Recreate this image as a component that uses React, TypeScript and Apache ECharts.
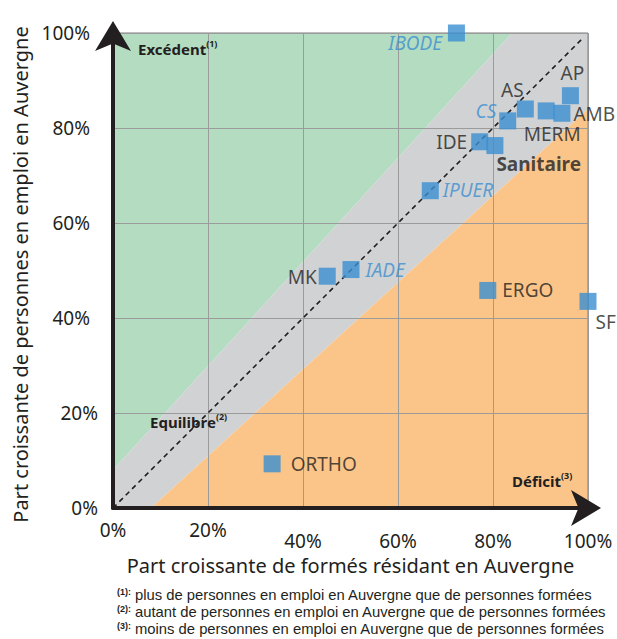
import React, { useEffect, useRef } from 'react';
import * as echarts from 'echarts';

// ---- data ----
const professions = ['IBODE', 'AP', 'AS', 'CS', 'MERM', 'AMB', 'IDE', 'Sanitaire', 'IPUER', 'MK', 'IADE', 'ERGO', 'SF', 'ORTHO'];
const trainedResidentShare = [72.3, 96.3, 86.8, 83.1, 91.2, 94.5, 77.2, 80.4, 66.8, 45.1, 50.1, 78.9, 100, 33.5];
const employedShare = [100, 86.8, 84.0, 81.5, 83.6, 83.1, 77.1, 76.3, 66.8, 48.8, 50.2, 45.8, 43.5, 9.3];
const excessBand = [[0, 8], [0, 100], [84, 100]];
const balanceBand = [[0, 0], [0, 8], [84, 100], [100, 100], [100, 84], [8, 0]];
const deficitBand = [[8, 0], [100, 84], [100, 0]];
const equilibriumLine = [[0, 0], [99, 99]];
const xAxisTitle = 'Part croissante de formés résidant en Auvergne';
const yAxisTitle = 'Part croissante de personnes en emploi en Auvergne';
const footnotes = [
  'plus de personnes en emploi en Auvergne que de personnes formées',
  'autant de personnes en emploi en Auvergne que de personnes formées',
  'moins de personnes en emploi en Auvergne que de personnes formées',
];

// ---- styles ----
const FONT = 'Noto Sans';
const NOTE_FONT = 'Liberation Sans';
const INK = '#231f20';
const BLUE = '#3b8fd0';
const bandColors = ['#b3dcc1', '#d1d2d4', '#fbc58a'];

const labelPlacement: Record<string, { pos: [number, number]; align: string; italic?: boolean; bold?: boolean }> = {
  IBODE: { pos: [-6, 18], align: 'right', italic: true },
  AP: { pos: [10.5, -14], align: 'center' },
  AS: { pos: [-4.5, -11], align: 'center' },
  CS: { pos: [-3, -1], align: 'right', italic: true },
  MERM: { pos: [14.5, 32], align: 'center' },
  AMB: { pos: [20, 9], align: 'left' },
  IDE: { pos: [-4, 9], align: 'right' },
  Sanitaire: { pos: [10, 27], align: 'left', bold: true },
  IPUER: { pos: [21, 8], align: 'left', italic: true },
  MK: { pos: [-2, 9], align: 'right' },
  IADE: { pos: [23, 9], align: 'left', italic: true },
  ERGO: { pos: [23, 8.5], align: 'left' },
  SF: { pos: [16, 29], align: 'left' },
  ORTHO: { pos: [27, 8.5], align: 'left' },
};

export default function App() {
  const ref = useRef<HTMLDivElement>(null);
  useEffect(() => {
    if (!ref.current) return;
    const chart = echarts.init(ref.current, undefined, { renderer: 'svg' });
    const bands = [excessBand, balanceBand, deficitBand];

    const scatterData = professions.map((name, i) => {
      const p = labelPlacement[name];
      return {
        name,
        value: [trainedResidentShare[i], employedShare[i]],
        label: {
          show: true,
          formatter: name,
          position: p.pos,
          align: p.align,
          verticalAlign: 'middle',
          fontSize: 19,
          fontFamily: FONT,
          color: p.italic ? BLUE : INK,
          fontStyle: p.italic ? 'italic' : 'normal',
          fontWeight: p.bold ? 'bold' : 'normal',
        },
      };
    });

    const corner = (x: number, y: number, main: string, sup: string) => ({
      type: 'text',
      x,
      y,
      z: 10,
      style: {
        text: `{m|${main}}{s|${sup}}`,
        align: 'left',
        verticalAlign: 'middle',
        rich: {
          m: { fontFamily: FONT, fontSize: 15, fontWeight: 'bold', fill: INK, color: INK, lineHeight: 20 },
          s: { fontFamily: FONT, fontSize: 9, fontWeight: 'bold', fill: INK, color: INK, lineHeight: 13, verticalAlign: 'top' },
        },
      },
    });

    const footnote = (i: number, y: number) => ({
      type: 'text',
      x: 117,
      y,
      style: {
        text: `{s|(${i + 1}):}{t|${footnotes[i]}}`,
        align: 'left',
        verticalAlign: 'middle',
        rich: {
          s: { fontFamily: NOTE_FONT, fontSize: 9, fontWeight: 'bold', fill: INK, color: INK, lineHeight: 9, verticalAlign: 'top', padding: [0, 4, 0, 0] },
          t: { fontFamily: NOTE_FONT, fontSize: 14.8, fill: INK, color: INK, lineHeight: 16 },
        },
      },
    });

    const option: any = {
      animation: false,
      backgroundColor: '#ffffff',
      textStyle: { fontFamily: FONT, color: INK },
      grid: { left: 113, top: 33, width: 475, height: 475, show: true, borderColor: '#7d7d7d', borderWidth: 1, backgroundColor: 'transparent' },
      xAxis: {
        type: 'value', min: 0, max: 100, interval: 20,
        name: xAxisTitle, nameLocation: 'middle', nameGap: 46,
        nameTextStyle: { fontSize: 20, color: INK, fontFamily: FONT },
        axisLine: { show: true, symbol: ['none', 'arrow'], symbolSize: [27, 30], symbolOffset: [0, 13], lineStyle: { color: INK, width: 4 } },
        axisTick: { show: false },
        splitLine: { show: true, lineStyle: { color: '#9b9b9b', width: 1 } },
        axisLabel: {
          margin: 11,
          formatter: (v: number) => (v <= 20 ? `{a|${v}%}` : `{b|${v}%}`),
          rich: {
            a: { fontSize: 19, lineHeight: 22, color: INK, fontFamily: FONT },
            b: { fontSize: 19, lineHeight: 44, color: INK, fontFamily: FONT },
          },
        },
      },
      yAxis: {
        type: 'value', min: 0, max: 100, interval: 20,
        name: yAxisTitle, nameLocation: 'middle', nameGap: 81,
        nameTextStyle: { fontSize: 20, color: INK, fontFamily: FONT, padding: [0, 8, 0, 0] },
        axisLine: { show: true, symbol: ['none', 'arrow'], symbolSize: [27, 30], symbolOffset: [0, 12], lineStyle: { color: INK, width: 4 } },
        axisTick: { show: false },
        splitLine: { show: true, lineStyle: { color: '#9b9b9b', width: 1 } },
        axisLabel: {
          margin: 15,
          formatter: (v: number) => (v <= 20 ? `{a|${v}%}` : `{b|${v}%}`),
          rich: {
            a: { fontSize: 19, color: INK, fontFamily: FONT },
            b: { fontSize: 19, color: INK, fontFamily: FONT, padding: [0, 8, 0, 0] },
          },
        },
      },
      graphic: [
        corner(138, 49, 'Excédent', '(1)'),
        corner(150, 422, 'Equilibre', '(2)'),
        corner(512, 481, 'Déficit', '(3)'),
        footnote(0, 595),
        footnote(1, 612),
        footnote(2, 629),
      ],
      series: [
        {
          type: 'custom',
          z: -1,
          clip: false,
          silent: true,
          data: bands.map(() => [0, 0]),
          renderItem: (params: any, api: any) => ({
            type: 'polygon',
            shape: { points: bands[params.dataIndex].map((p) => api.coord(p)) },
            style: { fill: bandColors[params.dataIndex] },
          }),
        },
        {
          type: 'line',
          z: 1,
          data: equilibriumLine,
          symbol: 'none',
          lineStyle: { color: INK, width: 1.6, type: [5, 4] },
          silent: true,
        },
        {
          type: 'scatter',
          z: 3,
          symbol: 'rect',
          symbolSize: 17,
          itemStyle: { color: '#3a8fd1' },
          data: scatterData,
        },
      ],
    };
    chart.setOption(option);
    return () => chart.dispose();
  }, []);
  return <div ref={ref} style={{ position: 'absolute', left: 0, top: 0, width: 617, height: 639 }} />;
}
